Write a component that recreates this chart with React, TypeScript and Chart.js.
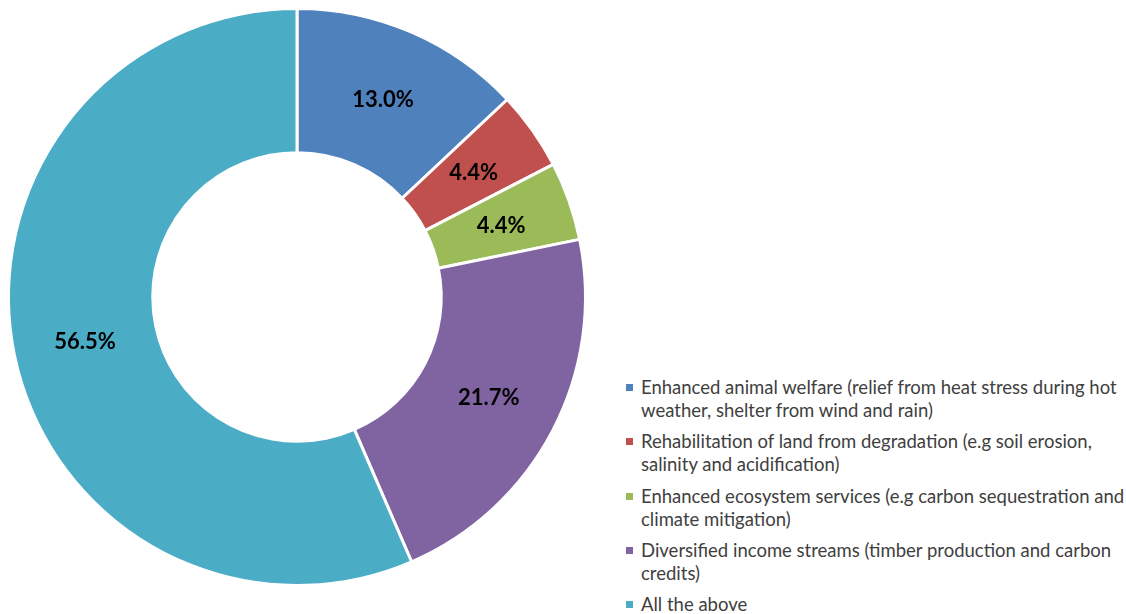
import React, { useEffect, useRef } from "react";
import { Chart, registerables } from "chart.js";

Chart.register(...registerables);

const categories = [
  "Enhanced animal welfare (relief from heat stress during hot weather, shelter from wind and rain)",
  "Rehabilitation of land from degradation (e.g soil erosion, salinity and acidification)",
  "Enhanced ecosystem services (e.g carbon sequestration and climate mitigation)",
  "Diversified income streams (timber production and carbon credits)",
  "All the above",
];
const legendLines = [
  ["Enhanced animal welfare (relief from heat stress during hot", "weather, shelter from wind and rain)"],
  ["Rehabilitation of land from degradation (e.g soil erosion,", "salinity and acidification)"],
  ["Enhanced ecosystem services (e.g carbon sequestration and", "climate mitigation)"],
  ["Diversified income streams (timber production and carbon", "credits)"],
  ["All the above"],
];
const values = [13.0, 4.4, 4.4, 21.7, 56.5];
const colors = ["#4F81BD", "#C0504D", "#9BBB59", "#8064A2", "#4BACC6"];

const labelPlugin = {
  id: "sliceLabels",
  afterDatasetsDraw(chart: any) {
    const ctx = chart.ctx;
    const meta = chart.getDatasetMeta(0);
    ctx.save();
    ctx.font = "bold 22px Lato, 'Open Sans', sans-serif";
    ctx.fillStyle = "#000000";
    ctx.textAlign = "center";
    ctx.textBaseline = "middle";
    meta.data.forEach((arc: any, i: number) => {
      const p = arc.getProps(["x", "y", "startAngle", "endAngle", "innerRadius", "outerRadius"], true);
      const a = (p.startAngle + p.endAngle) / 2;
      const r = (p.innerRadius + p.outerRadius) / 2;
      const x = p.x + Math.cos(a) * r;
      const y = p.y + Math.sin(a) * r;
      ctx.fillText(values[i].toFixed(1) + "%", x, y + 1);
    });
    ctx.restore();
  },
};

export default function App() {
  const ref = useRef<HTMLCanvasElement>(null);
  useEffect(() => {
    if (!ref.current) return;
    const chart = new Chart(ref.current, {
      type: "doughnut",
      data: {
        labels: categories,
        datasets: [
          {
            data: values,
            backgroundColor: colors,
            borderColor: "#FFFFFF",
            borderWidth: 3,
          },
        ],
      },
      options: {
        responsive: false,
        animation: false,
        cutout: "50%",
        layout: { padding: 7 },
        plugins: {
          legend: { display: false },
          tooltip: { enabled: false },
        },
      },
      plugins: [labelPlugin],
    });
    return () => chart.destroy();
  }, []);

  return (
    <div style={{ position: "absolute", left: 0, top: 0, width: 1126, height: 614, background: "#fff", overflow: "hidden" }}>
      <canvas ref={ref} width={594} height={594} style={{ position: "absolute", left: 0, top: 0, width: 594, height: 594 }} />
      <div style={{ position: "absolute", left: 0, top: 0 }}>
        {legendLines.map((lines, i) => (
          <div key={i}>
            <div
              style={{
                position: "absolute",
                left: 626,
                top: 384 + i * 54.3,
                width: 7,
                height: 7,
                background: colors[i],
              }}
            />
            {lines.map((ln, j) => (
              <div
                key={j}
                style={{
                  position: "absolute",
                  left: 641,
                  top: 376 + i * 54.3 + j * 23,
                  whiteSpace: "nowrap",
                  fontFamily: "Lato, 'Open Sans', sans-serif",
                  fontSize: 18.5,
                  lineHeight: "23px",
                  color: "#404040",
                }}
              >
                {ln}
              </div>
            ))}
          </div>
        ))}
      </div>
    </div>
  );
}
